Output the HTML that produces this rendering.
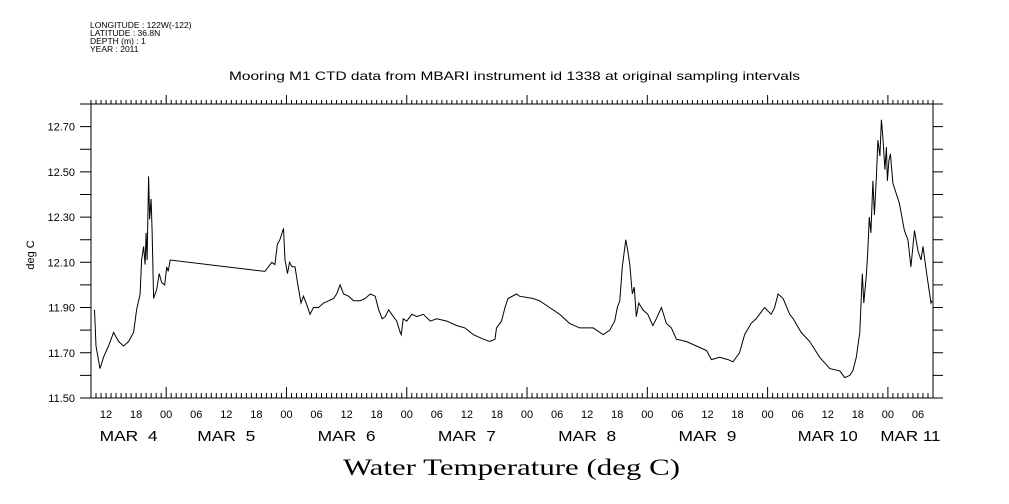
<!DOCTYPE html>
<html><head><meta charset="utf-8"><style>
html,body{margin:0;padding:0;background:#fff;width:1009px;height:504px;overflow:hidden}
svg text{font-family:"Liberation Sans",sans-serif;fill:#000}
</style></head><body>
<svg id="chart" width="1009" height="504" viewBox="0 0 1009 504" xmlns="http://www.w3.org/2000/svg">
<g font-size="8.5">
<text x="90" y="28">LONGITUDE : 122W(-122)</text>
<text x="90" y="36">LATITUDE : 36.8N</text>
<text x="90" y="44">DEPTH (m) : 1</text>
<text x="90" y="52">YEAR : 2011</text>
</g>
<text x="229" y="80" font-size="12" textLength="571" lengthAdjust="spacingAndGlyphs">Mooring M1 CTD data from MBARI instrument id 1338 at original sampling intervals</text>
<text transform="translate(34,255) rotate(-90)" font-size="11" text-anchor="middle">deg C</text>
<text x="343" y="475" font-size="23" textLength="337" lengthAdjust="spacingAndGlyphs" style="font-family:'Liberation Serif',serif">Water Temperature (deg C)</text>
<g id="axes"></g>
<path id="line" fill="none" stroke="#000" stroke-width="1"/>
</svg>
<script>
// hours since Mar 4 00:00
const hours = [9.7,10.0,10.8,11.5,12.5,13.5,14.5,15.5,16.5,17.5,18.1,18.8,19.1,19.5,19.8,20.0,20.2,20.5,20.7,21.0,21.2,21.5,22.1,22.6,23.1,23.7,24.1,24.4,24.8,43.7,44.4,45.1,45.7,46.2,46.7,47.4,47.7,48.2,48.6,49.1,49.7,50.2,50.9,51.4,52.1,52.7,53.4,54.4,55.4,56.4,57.4,58.0,58.7,59.4,60.4,61.4,62.7,63.7,64.7,65.7,66.4,67.1,67.7,68.4,69.0,70.0,70.7,70.9,71.3,72.0,73.0,74.0,75.3,76.7,78.0,80.0,82.0,83.6,85.3,87.3,88.6,89.6,89.9,90.9,91.6,92.2,93.9,94.5,97.2,98.5,100.5,102.5,104.5,106.5,109.2,111.2,112.5,113.5,114.0,114.5,115.0,115.7,116.1,116.5,117.0,117.4,117.8,118.3,119.1,120.1,121.1,121.8,122.8,123.8,124.8,125.8,127.8,129.8,131.8,132.8,134.4,136.1,137.1,138.4,139.4,140.7,141.7,143.4,144.7,145.4,146.1,147.1,148.4,149.1,150.7,152.4,154.4,156.4,158.4,159.4,160.4,161.0,161.7,162.4,162.9,163.2,163.7,164.0,164.3,164.6,165.0,165.3,165.7,166.0,166.4,166.7,167.0,167.4,167.7,167.9,168.2,168.5,169.0,170.3,171.3,172.0,172.6,173.3,174.0,174.6,175.0,175.8,176.6,176.8];
const temps = [11.89,11.73,11.63,11.68,11.73,11.79,11.75,11.73,11.75,11.79,11.89,11.96,12.11,12.17,12.09,12.23,12.11,12.48,12.29,12.38,12.24,11.94,11.98,12.05,12.01,12.00,12.08,12.06,12.11,12.06,12.08,12.10,12.09,12.18,12.20,12.25,12.11,12.05,12.10,12.08,12.08,12.01,11.92,11.95,11.91,11.87,11.90,11.90,11.92,11.93,11.94,11.96,12.00,11.96,11.95,11.93,11.93,11.94,11.96,11.95,11.89,11.85,11.86,11.89,11.87,11.84,11.79,11.78,11.85,11.84,11.87,11.86,11.87,11.84,11.85,11.84,11.82,11.81,11.78,11.76,11.75,11.76,11.81,11.84,11.90,11.94,11.96,11.95,11.94,11.93,11.90,11.87,11.83,11.81,11.81,11.78,11.80,11.84,11.90,11.93,12.08,12.20,12.15,12.09,11.96,11.99,11.86,11.92,11.89,11.87,11.82,11.85,11.90,11.83,11.81,11.76,11.75,11.73,11.71,11.67,11.68,11.67,11.66,11.70,11.78,11.83,11.85,11.90,11.87,11.90,11.96,11.94,11.87,11.85,11.79,11.75,11.68,11.63,11.62,11.59,11.60,11.62,11.68,11.79,12.05,11.92,12.04,12.15,12.30,12.23,12.46,12.31,12.48,12.64,12.57,12.73,12.65,12.51,12.61,12.46,12.55,12.58,12.45,12.36,12.24,12.20,12.08,12.24,12.15,12.11,12.17,12.04,11.92,11.93];
const yTickLabels = ["11.50","11.70","11.90","12.10","12.30","12.50","12.70"];
const dayLabels = ["MAR  4","MAR  5","MAR  6","MAR  7","MAR  8","MAR  9","MAR 10","MAR 11"];

const L=91,R=933,T=104,B=398,H0=9,H1=177,Y0=11.5,Y1=12.8;
const xs=h=>L+(h-H0)*(R-L)/(H1-H0);
const ys=v=>B-(v-Y0)*(B-T)/(Y1-Y0);
const NS="http://www.w3.org/2000/svg";
const ax=document.getElementById('axes');
function mk(tag,attrs,txt){const e=document.createElementNS(NS,tag);for(const k in attrs)e.setAttribute(k,attrs[k]);if(txt!==undefined)e.textContent=txt;ax.appendChild(e);return e;}
let d='';
d+=`M${L} ${T}V${B}M${R} ${T}V${B}M80 ${T}H943M80 ${B}H943`;
for(let i=0;i<=13;i++){const y=ys(Y0+i*0.1);d+=`M80 ${y}H${L}M${R} ${y}H943`;}
for(let h=H0;h<=H1;h++){const x=xs(h);const maj=h%24===0;d+=`M${x} ${T}V${T-(maj?9:4)}M${x} ${B}V${B-(maj?11:5)}`;}
const fr=mk('path',{d:d,stroke:'#000','stroke-width':1,fill:'none'});


yTickLabels.forEach(s=>{const t=mk('text',{x:75,y:ys(parseFloat(s))+4,'font-size':11,'text-anchor':'end'},s);

});
for(let h=12;h<H1;h+=6){const hh=String(h%24).padStart(2,'0');const t=mk('text',{x:xs(h),y:418,'font-size':11,'text-anchor':'middle'},hh);

}
dayLabels.forEach((s,i)=>{const a=Math.max(H0,i*24),b=Math.min(H1,i*24+24);const w=i>=6?60:58;const t=mk('text',{x:(xs(a)+xs(b))/2-w/2,y:441,'font-size':15,textLength:w,lengthAdjust:'spacingAndGlyphs'},s);
t.style.whiteSpace='pre';

});
document.getElementById('line').setAttribute('d',hours.map((h,i)=>(i?'L':'M')+xs(h).toFixed(1)+' '+ys(temps[i]).toFixed(1)).join(''));
</script>
</body></html>
